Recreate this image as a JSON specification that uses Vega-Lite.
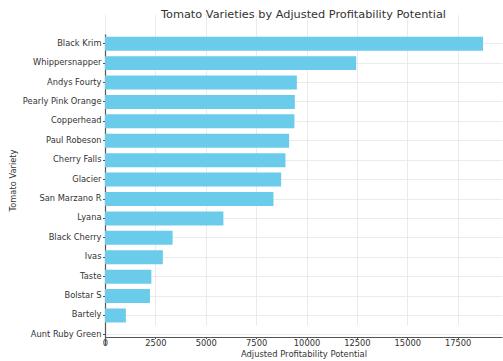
{
  "$schema": "https://vega.github.io/schema/vega-lite/v6.json",
  "width": 397,
  "height": 315,
  "autosize": {"type": "none"},
  "padding": {"left": 105, "top": 22, "right": 1, "bottom": 24},
  "background": "white",
  "title": {
    "text": "Tomato Varieties by Adjusted Profitability Potential",
    "font": "DejaVu Sans",
    "fontSize": 11.3,
    "fontWeight": "normal",
    "color": "#333333",
    "anchor": "middle",
    "offset": 2
  },
  "data": {
    "values": [
      {"variety": "Black Krim", "potential": 18760},
      {"variety": "Whippersnapper", "potential": 12465},
      {"variety": "Andys Fourty", "potential": 9520},
      {"variety": "Pearly Pink Orange", "potential": 9420},
      {"variety": "Copperhead", "potential": 9400},
      {"variety": "Paul Robeson", "potential": 9135},
      {"variety": "Cherry Falls", "potential": 8955},
      {"variety": "Glacier", "potential": 8740},
      {"variety": "San Marzano R", "potential": 8360},
      {"variety": "Lyana", "potential": 5875},
      {"variety": "Black Cherry", "potential": 3355},
      {"variety": "Ivas", "potential": 2870},
      {"variety": "Taste", "potential": 2300},
      {"variety": "Bolstar S", "potential": 2230},
      {"variety": "Bartely", "potential": 1035},
      {"variety": "Aunt Ruby Green", "potential": 0}
    ]
  },
  "mark": {"type": "bar", "color": "#6ACBEA"},
  "encoding": {
    "y": {
      "field": "variety",
      "type": "nominal",
      "sort": null,
      "title": "Tomato Variety",
      "scale": {"range": [12, 322.6], "paddingInner": 0.28, "paddingOuter": 0.14},
      "axis": {
        "bandPosition": 0.5,
        "grid": true,
        "gridColor": "#e6e6e6",
        "gridWidth": 0.8,
        "domainColor": "#555555",
        "domainWidth": 1.2,
        "tickColor": "#555555",
        "tickSize": 2.5,
        "labelFont": "DejaVu Sans",
        "labelFontSize": 8.3,
        "labelColor": "#333333",
        "labelPadding": 1.5,
        "titleFont": "DejaVu Sans",
        "titleFontSize": 8.3,
        "titleFontWeight": "normal",
        "titleColor": "#333333",
        "titleX": -88,
        "titleY": 158
      }
    },
    "x": {
      "field": "potential",
      "type": "quantitative",
      "title": "Adjusted Profitability Potential",
      "scale": {"domain": [0, 19700], "nice": false},
      "axis": {
        "values": [0, 2500, 5000, 7500, 10000, 12500, 15000, 17500],
        "format": "d",
        "grid": true,
        "gridColor": "#e6e6e6",
        "gridWidth": 0.8,
        "domainColor": "#555555",
        "domainWidth": 1.2,
        "tickColor": "#555555",
        "tickSize": 1.5,
        "labelFont": "DejaVu Sans",
        "labelFontSize": 8.3,
        "labelColor": "#333333",
        "labelPadding": 0,
        "labelFlush": false,
        "titleFont": "DejaVu Sans",
        "titleFontSize": 8.4,
        "titleFontWeight": "normal",
        "titleColor": "#333333",
        "titlePadding": 3
      }
    }
  },
  "config": {"view": {"stroke": null}}
}
